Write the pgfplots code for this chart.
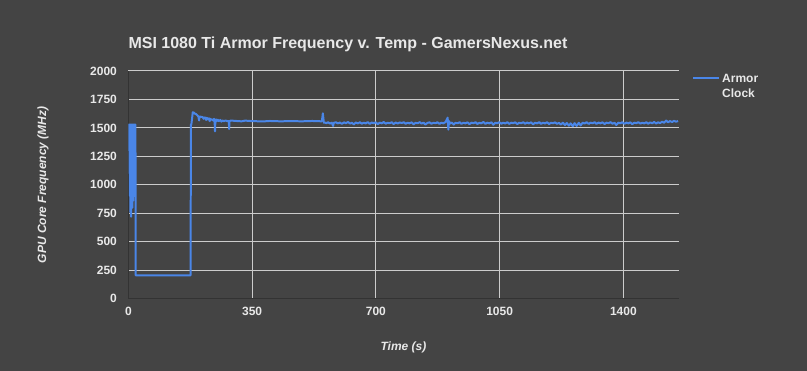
\documentclass[border=0pt]{standalone}
\usepackage{pgfplots}
\pgfplotsset{compat=1.18}
\usepackage{fontspec}
\setmainfont{Liberation Sans}
\definecolor{bgcol}{HTML}{444444}
\definecolor{gridcol}{HTML}{CCCCCC}
\definecolor{axcol}{HTML}{333333}
\definecolor{txtcol}{HTML}{E8E8E8}
\definecolor{linecol}{HTML}{4A86E8}
\begin{document}
\begin{tikzpicture}
\fill[bgcol] (0,0) rectangle (807bp,371bp);
\node[text=txtcol, font=\fontsize{16bp}{19bp}\selectfont\bfseries] at (348bp,327bp) {MSI 1080 Ti Armor Frequency v. Temp - GamersNexus.net};
\begin{axis}[
  at={(128.4bp,72.3bp)}, anchor=south west,
  scale only axis, width=550.1bp, height=227.7bp,
  xmin=0, xmax=1556, ymin=0, ymax=2000,
  xtick={0,350,700,1050,1400},
  ytick={0,250,500,750,1000,1250,1500,1750,2000},
  axis x line*=bottom, axis y line*=left,
  axis line style={draw=axcol, line width=1pt, -},
  major tick length=0pt,
  grid=major, grid style={gridcol, line width=1pt},
  /pgf/number format/assume math mode=true,
  /pgf/number format/1000 sep={},
  ticklabel style={text=txtcol, font=\fontsize{12bp}{14bp}\selectfont\bfseries},
  yticklabel style={xshift=-8bp},
  xticklabel style={yshift=-5bp},
  xlabel={Time (s)}, ylabel={GPU Core Frequency (MHz)},
  label style={text=txtcol, font=\fontsize{12bp}{14bp}\selectfont\bfseries\itshape},
  xlabel style={at={(axis description cs:0.5,-0.212)}, anchor=center},
  ylabel style={at={(axis description cs:-0.155,0.5)}, anchor=center, rotate=0},
  legend style={at={(axis description cs:1.0245,1.01)}, anchor=north west, draw=none, fill=none,
    text=txtcol, font=\fontsize{12bp}{17bp}\selectfont\bfseries, inner sep=0pt},
  legend cell align=left,
  legend image code/.code={\draw[linecol, line width=2pt] (0bp,0bp) -- (26bp,0bp);},
]
\addplot[linecol, line width=2pt, line join=round] coordinates {
(0,1530)(0.5,1480)(1,1530)(1.5,1420)(2,1530)(2.5,1300)(3,1530)(3.5,1100)(4,1530)(4.5,900)
(5,1530)(5.5,760)(6,1520)(6.5,1000)(7,1530)(7.5,720)(8,1530)(8.5,850)(9,1530)(9.5,1200)
(10,1530)(10.5,950)(11,1530)(11.5,800)(12,1530)(12.5,1100)(13,1530)(13.5,860)(14,1530)(14.5,1300)
(15,1530)(15.5,900)(16,1530)(16.5,1530)(17,1530)(17.5,1000)(18,1530)(18.5,1530)(19,1520)(19.5,1530)
(20,1530)(20.5,205)(60,205)(100,205)(140,205)(176,205)(176.5,1150)(177,1530)(178,1530)(180,1580)
(182,1637)(185,1635)(188,1625)(191,1622)(195,1610)(198,1600)(200,1565)(201,1600)(205,1598)(210,1595)
(213,1580)(215,1592)(218,1590)(220,1570)(222,1588)(225,1575)(228,1585)(230,1560)(232,1580)(235,1570)
(237,1575)(240,1565)(242,1580)(244,1545)(245,1470)(246,1560)(248,1575)(250,1560)(253,1572)(256,1560)
(260,1570)(263,1555)(266,1565)(270,1560)(275,1565)(280,1560)(284,1560)(285,1490)(286,1560)(290,1565)
(300,1562)(320,1558)(330,1564)(350,1560)(380,1557)(400,1561)(430,1558)(460,1560)(490,1558)(520,1561)
(547,1558)(549,1600)(550,1628)(552,1570)(553,1545)
(555,1548)(560,1542)(565,1550)(570,1538)(575,1546)(579,1518)(581,1545)(587,1550)(592,1540)(598,1547)
(604,1536)(610,1549)(615,1541)(621,1552)(627,1538)(632,1545)(638,1531)(643,1548)(649,1540)(655,1550)
(660,1537)(666,1546)(671,1539)(677,1551)(683,1535)(688,1547)(694,1542)(700,1549)(705,1533)(711,1546)
(717,1540)(722,1552)(728,1537)(733,1545)(739,1541)(745,1550)(750,1534)(756,1547)(762,1539)(767,1548)
(773,1543)(779,1550)(784,1536)(790,1546)(795,1540)(801,1549)(807,1532)(812,1545)(818,1541)(824,1551)
(829,1538)(835,1546)(840,1530)(846,1544)(852,1549)(857,1537)(863,1545)(869,1541)(874,1550)(880,1535)
(885,1546)(891,1540)(897,1552)(900,1570)(903,1590)(905,1485)(907,1560)(910,1538)(915,1547)(920,1530)
(925,1545)(931,1541)(937,1550)(942,1536)(948,1546)(953,1540)(959,1549)(965,1533)(970,1546)(976,1542)
(982,1550)(987,1535)(993,1545)(998,1540)(1004,1552)(1010,1536)(1015,1546)(1021,1540)(1027,1549)(1032,1528)
(1038,1545)(1043,1541)(1049,1550)(1055,1537)(1060,1546)(1066,1539)(1072,1551)(1077,1535)(1083,1546)(1088,1542)
(1094,1549)(1100,1534)(1105,1545)(1111,1541)(1117,1550)(1122,1537)(1128,1547)(1133,1540)(1139,1549)(1145,1532)
(1150,1545)(1156,1540)(1162,1551)(1167,1536)(1173,1546)(1178,1539)(1184,1550)(1190,1534)(1195,1545)(1201,1541)
(1207,1549)(1212,1536)(1218,1544)(1223,1530)(1229,1546)(1235,1525)(1240,1543)(1246,1520)(1251,1540)(1257,1515)
(1262,1542)(1268,1518)(1274,1545)(1279,1522)(1285,1546)(1290,1538)(1296,1550)(1302,1535)(1307,1546)(1313,1541)
(1319,1550)(1324,1536)(1330,1547)(1335,1540)(1341,1549)(1347,1534)(1352,1546)(1358,1542)(1364,1551)(1369,1537)
(1375,1545)(1380,1526)(1386,1546)(1392,1541)(1397,1550)(1403,1536)(1409,1547)(1414,1540)(1420,1549)(1425,1533)
(1431,1546)(1437,1542)(1442,1551)(1448,1538)(1454,1546)(1459,1540)(1465,1550)(1470,1537)(1476,1548)(1482,1541)
(1487,1552)(1493,1539)(1498,1549)(1504,1543)(1510,1555)(1515,1545)(1521,1565)(1526,1550)(1532,1560)(1538,1552)
(1543,1562)(1549,1555)(1555,1560)
};
\addlegendentry{\begin{tabular}[t]{@{}l@{}}Armor\\[-2bp]Clock\end{tabular}}
\end{axis}
\end{tikzpicture}
\end{document}
